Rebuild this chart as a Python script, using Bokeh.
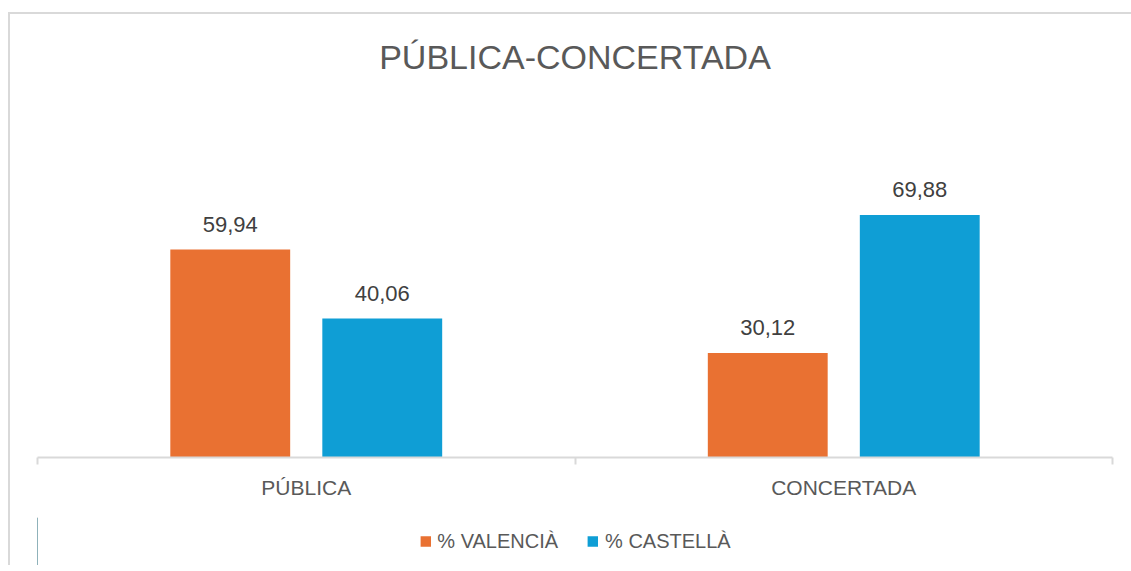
from bokeh.plotting import figure
from bokeh.models import Range1d, FixedTicker, LinearAxis, Legend, LegendItem, Title
from bokeh.layouts import column
from bokeh.core.properties import value
from bokeh.embed import file_html
from bokeh.resources import INLINE

categories = ["PÚBLICA", "CONCERTADA"]
series_names = ["% VALENCIÀ", "% CASTELLÀ"]
valencia = [59.94, 30.12]
castella = [40.06, 69.88]
colors = ["#E97132", "#0F9ED5"]

FONT = "Liberation Sans"
BAR_W = 0.223
OFF = 0.1414

p = figure(frame_width=1075, frame_height=360, output_backend="svg", toolbar_location=None,
           x_range=Range1d(0, len(categories)), y_range=Range1d(0, 103.7),
           min_border_left=27, min_border_right=19, min_border_top=10, min_border_bottom=60,
           x_axis_location=None, y_axis_location=None)
p.xgrid.visible = False
p.ygrid.visible = False
p.outline_line_color = None

t = Title(text="PÚBLICA-CONCERTADA", align="center", text_font=FONT, text_font_size="34px",
          text_font_style="normal", text_color="#595959", standoff=43)
p.add_layout(t, "above")

centers = [i + 0.5 for i in range(len(categories))]
xa = [c - OFF for c in centers]
xb = [c + OFF for c in centers]
p.vbar(x=xa, top=valencia, width=BAR_W, fill_color=colors[0], line_color=None)
p.vbar(x=xb, top=castella, width=BAR_W, fill_color=colors[1], line_color=None)

fmt = lambda v: f"{v:.2f}".replace(".", ",")
p.text(x=xa, y=valencia, text=[fmt(v) for v in valencia], text_align="center", text_baseline="middle",
       y_offset=-25, text_font=value(FONT), text_font_size="22px", text_color="#404040")
p.text(x=xb, y=castella, text=[fmt(v) for v in castella], text_align="center", text_baseline="middle",
       y_offset=-25, text_font=value(FONT), text_font_size="22px", text_color="#404040")

ax = LinearAxis(ticker=FixedTicker(ticks=centers, minor_ticks=list(range(len(categories) + 1))),
                major_label_overrides={c: n for c, n in zip(centers, categories)})
ax.axis_line_color = "#d9d9d9"
ax.axis_line_width = 2
ax.major_tick_line_color = None
ax.major_tick_out = 0
ax.major_tick_in = 0
ax.minor_tick_line_color = "#d9d9d9"
ax.minor_tick_line_width = 2
ax.minor_tick_out = 7
ax.minor_tick_in = 0
ax.major_label_standoff = 11
ax.major_label_text_font = FONT
ax.major_label_text_font_size = "21px"
ax.major_label_text_color = "#595959"
p.add_layout(ax, "below")

# legend strip below the chart (its proxy bars lie outside this strip's visible range)
p2 = figure(width=1121, height=48, output_backend="svg", toolbar_location=None,
            x_range=Range1d(10, 11), y_range=Range1d(0, 1),
            min_border=0, min_border_left=18,
            x_axis_location=None, y_axis_location=None)
p2.xgrid.visible = False
p2.ygrid.visible = False
p2.outline_line_color = None
l1 = p2.vbar(x=xa, top=valencia, width=BAR_W, fill_color=colors[0], line_color=None)
l2 = p2.vbar(x=xb, top=castella, width=BAR_W, fill_color=colors[1], line_color=None)
legend = Legend(items=[LegendItem(label=series_names[0], renderers=[l1]),
                       LegendItem(label=series_names[1], renderers=[l2])],
                orientation="horizontal", location="center",
                label_text_font=FONT, label_text_font_size="20px", label_text_color="#595959",
                glyph_width=13, glyph_height=13, label_standoff=6, spacing=28,
                padding=0, margin=0, border_line_color=None, background_fill_alpha=0)
p2.add_layout(legend)

layout = column(p, p2, styles={"margin-left": "8px", "margin-top": "12px",
                               "border-left": "2px solid #d9d9d9", "border-top": "2px solid #d9d9d9"})

open("out.html", "w").write(file_html(layout, INLINE))
